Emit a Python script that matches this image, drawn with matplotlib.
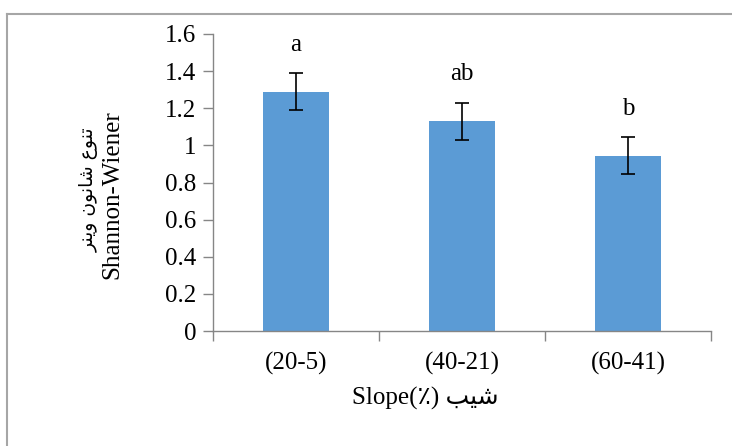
import matplotlib
matplotlib.use("Agg")
import matplotlib.pyplot as plt
from matplotlib.lines import Line2D

categories = ["(20-5)", "(40-21)", "(60-41)"]
means = [1.29, 1.13, 0.945]
errors = [0.10, 0.10, 0.10]
letters = ["a", "ab", "b"]
yticks = [0, 0.2, 0.4, 0.6, 0.8, 1, 1.2, 1.4, 1.6]
ytick_labels = ["0", "0.2", "0.4", "0.6", "0.8", "1", "1.2", "1.4", "1.6"]

# Persian text in visual (LTR display) order using presentation forms
fa_ylabel = ("\uFEAE\uFEE8\uFEF3\uFEED" + " " +
             "\uFEE5\uFEEE\uFEE7\uFE8E\uFEB7" + " " +
             "\uFEC9\uFEEE\uFEE8\uFE97")
en_ylabel = "Shannon-Wiener"
xlabel_text = "Slope(\u066A) " + "\uFE90\uFEF4\uFEB7"

fam = ["Liberation Serif", "DejaVu Sans"]
plt.rcParams["font.family"] = fam

fig = plt.figure(figsize=(7.32, 4.46), dpi=100)
ax = fig.add_axes([213/732, 1-331/446, (711-213)/732, (331-34)/446])

x = list(range(len(categories)))
ax.bar(x, means, width=0.4, color="#5B9BD5", zorder=2)
ax.errorbar(x, means, yerr=errors, fmt="none", ecolor="black",
            elinewidth=1.2, capsize=5, capthick=1.2, zorder=3)
for xi, m, e, t in zip(x, means, errors, letters):
    ax.annotate(t, (xi, m + e), xytext=(0, 16), textcoords="offset points",
                ha="center", va="baseline", fontsize=18)

ax.set_xlim(-0.5, len(categories) - 0.5)
ax.set_ylim(0, 1.6)
ax.set_yticks(yticks)
ax.set_yticklabels(ytick_labels, fontsize=18)
ax.set_xticks(x)
ax.set_xticklabels(categories, fontsize=18)
ax.set_xticks([i - 0.5 for i in range(len(categories) + 1)], minor=True)
ax.tick_params(axis="x", which="major", length=0, pad=15)
ax.tick_params(axis="x", which="minor", length=7, color="#868686", width=1)
ax.tick_params(axis="y", length=7, color="#868686", width=1, pad=5)

for s in ["top", "right"]:
    ax.spines[s].set_visible(False)
for s in ["left", "bottom"]:
    ax.spines[s].set_color("#868686")
    ax.spines[s].set_linewidth(1)

fig.text(89/732, 1-190/446, fa_ylabel, rotation=90, ha="center", va="center",
         fontsize=13.5, family=["DejaVu Sans"])
fig.text(112/732, 1-195/446, en_ylabel, rotation=90, ha="center", va="center",
         fontsize=18)
fig.text(425/732, 1-398/446, xlabel_text, ha="center", va="center", fontsize=18,
         family=fam)

fig.add_artist(Line2D([7/732, 7/732], [0, 1-14/446], transform=fig.transFigure,
                      color="#a6a6a6", lw=1.5))
fig.add_artist(Line2D([7/732, 1], [1-14/446, 1-14/446], transform=fig.transFigure,
                      color="#a6a6a6", lw=1.5))

fig.savefig("out.png", dpi=100)
